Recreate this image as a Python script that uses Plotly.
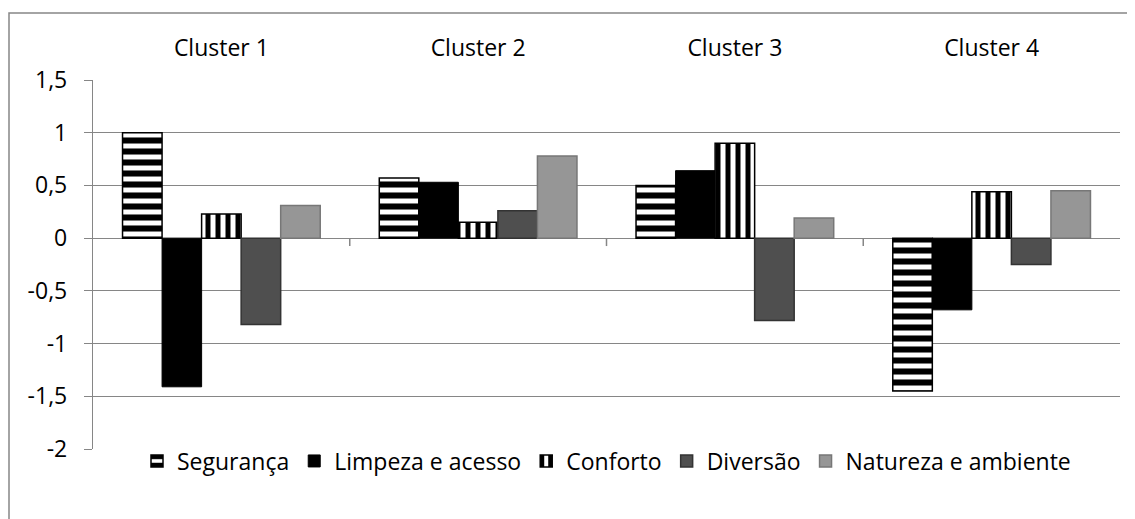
import plotly.graph_objects as go

clusters = ["Cluster 1", "Cluster 2", "Cluster 3", "Cluster 4"]
seguranca = [1.00, 0.57, 0.50, -1.45]
limpeza = [-1.41, 0.53, 0.64, -0.68]
conforto = [0.23, 0.15, 0.90, 0.44]
diversao = [-0.82, 0.26, -0.78, -0.25]
natureza = [0.31, 0.78, 0.19, 0.45]
y_ticks = [1.5, 1, 0.5, 0, -0.5, -1, -1.5, -2]
series_names = ["Segurança", "Limpeza e acesso", "Conforto", "Diversão", "Natureza e ambiente"]

# page body has an 8px margin, so the figure is drawn at (8, 8)
W, H = 1127, 511
L, R, T, B = 85, 15, 72, 70
PW, PH = W - L - R, H - T - B
FONT = "Open Sans"
FS = 23
GRID = "#868686"

fig = go.Figure()
fig.add_trace(go.Bar(
    name=series_names[0], x=clusters, y=seguranca,
    marker=dict(color="white", line=dict(color="black", width=1.5),
                pattern=dict(shape="-", fgcolor="black", bgcolor="white", fgopacity=1,
                             size=11, solidity=0.55)),
))
fig.add_trace(go.Bar(
    name=series_names[1], x=clusters, y=limpeza,
    marker=dict(color="black", line=dict(color="black", width=1)),
))
fig.add_trace(go.Bar(
    name=series_names[2], x=clusters, y=conforto,
    marker=dict(color="white", line=dict(color="black", width=1.5),
                pattern=dict(shape="|", fgcolor="black", bgcolor="white", fgopacity=1,
                             size=10, solidity=0.5)),
))
fig.add_trace(go.Bar(
    name=series_names[3], x=clusters, y=diversao,
    marker=dict(color="#4f4f4f", line=dict(color="#333333", width=1.5)),
))
fig.add_trace(go.Bar(
    name=series_names[4], x=clusters, y=natureza,
    marker=dict(color="#969696", line=dict(color="#777777", width=1.5)),
))

shapes = []
for i in range(1, len(clusters)):
    shapes.append(dict(type="line", xref="x", yref="y", x0=i - 0.5, x1=i - 0.5,
                       y0=0, y1=-0.075, line=dict(color=GRID, width=1.5)))
# outer chart-area frame
shapes.append(dict(type="rect", xref="paper", yref="paper",
                   x0=(1 - L) / PW, x1=(W + 10 - L) / PW,
                   y0=-(B + 10) / PH, y1=1 + (T - 5) / PH,
                   line=dict(color=GRID, width=1.5), fillcolor="rgba(0,0,0,0)", layer="below"))

fig.update_layout(
    width=W, height=H,
    margin=dict(l=L, r=R, t=T, b=B, autoexpand=False),
    paper_bgcolor="white", plot_bgcolor="white",
    barmode="group", bargap=0.23, bargroupgap=0,
    font=dict(family=FONT, size=FS, color="black"),
    showlegend=True,
    legend=dict(orientation="h", x=0.5, xanchor="center", y=-12 / PH, yanchor="middle",
                font=dict(size=FS), itemwidth=30, tracegroupgap=0),
    shapes=shapes,
)
fig.update_xaxes(type="category", side="top", showline=False, ticks="", showgrid=False,
                 zeroline=False, ticklabelstandoff=18, tickfont=dict(size=FS), automargin=False)
fig.update_yaxes(range=[-2, 1.5], tickvals=y_ticks,
                 ticktext=[f"{v:g}".replace(".", ",") for v in y_ticks],
                 showgrid=True, gridcolor=GRID, gridwidth=1.3,
                 showline=True, linecolor=GRID, linewidth=1.3,
                 ticks="outside", ticklen=8, tickcolor=GRID, tickwidth=1.3,
                 ticklabelstandoff=12, automargin=False,
                 zeroline=False, tickfont=dict(size=FS))

fig.write_html("out.html")
